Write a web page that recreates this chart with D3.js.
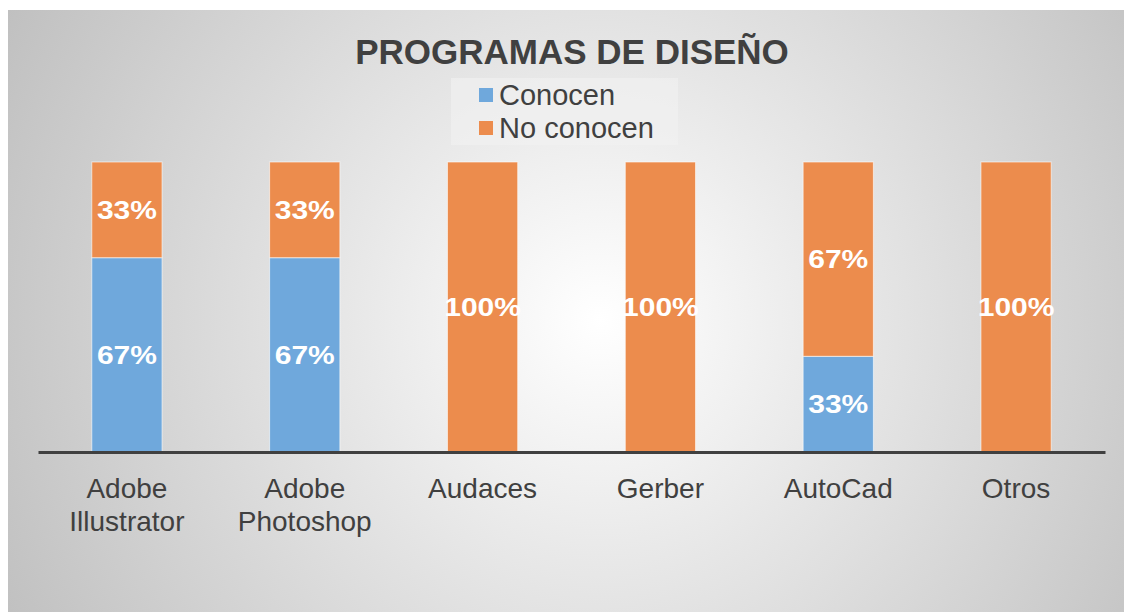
<!DOCTYPE html>
<html>
<head>
<meta charset="utf-8">
<script src="https://cdn.jsdelivr.net/npm/d3@7"></script>
<style>
  body { margin: 0; background: #fff; }
  text { font-family: "Liberation Sans", Arial, sans-serif; }
</style>
</head>
<body>
<div class="chart"></div>
<script>
const categories = [["Adobe", "Illustrator"], ["Adobe", "Photoshop"], ["Audaces"], ["Gerber"], ["AutoCad"], ["Otros"]];
const conocen = [67, 67, 0, 0, 33, 0];
const noConocen = [33, 33, 100, 100, 67, 100];
const seriesNames = ["Conocen", "No conocen"];
const seriesColors = ["#6fa8dc", "#ec8c4d"];

const svg_width = 1124, svg_height = 612;
const chart_margin = {top: 162, right: 19, bottom: 160, left: 38};
const chart_width = svg_width - chart_margin.left - chart_margin.right;
const chart_height = svg_height - chart_margin.top - chart_margin.bottom;

const svg = d3.select('.chart').append('svg')
  .attr('width', svg_width).attr('height', svg_height);

// radial background like the office chart style
const grad = svg.append('defs').append('radialGradient')
  .attr('id', 'bg').attr('gradientUnits', 'userSpaceOnUse')
  .attr('cx', 600).attr('cy', 320).attr('r', 700);
grad.append('stop').attr('offset', '0%').attr('stop-color', '#ffffff');
grad.append('stop').attr('offset', '100%').attr('stop-color', '#bdbdbd');
svg.append('rect').attr('x', 8).attr('y', 10)
  .attr('width', svg_width - 8).attr('height', svg_height - 10)
  .attr('fill', 'url(#bg)');

const names = categories.map(d => d.join(' '));
const data = names.map((n, i) => ({name: n, Conocen: conocen[i], "No conocen": noConocen[i]}));
const stacked = d3.stack().keys(seriesNames)(data);

const xScale = d3.scaleBand().domain(names).range([0, chart_width])
  .paddingInner(0.605).paddingOuter(0.3025);
const yScale = d3.scaleLinear([0, 100], [chart_height, 0]);

const g = svg.append('g').attr('transform', `translate(${chart_margin.left},${chart_margin.top})`);

const layers = g.selectAll('.layer').data(stacked).join('g')
  .attr('class', 'layer').attr('fill', (d, i) => seriesColors[i]);

layers.selectAll('rect').data(d => d.filter(s => s[1] - s[0] > 0)).join('rect')
  .attr('x', d => xScale(d.data.name))
  .attr('y', d => yScale(d[1]))
  .attr('width', xScale.bandwidth())
  .attr('height', d => yScale(d[0]) - yScale(d[1]))
  .attr('stroke', 'rgba(255,255,255,0.6)').attr('stroke-width', 1);

// value labels (slightly wide font, like the reference)
layers.selectAll('text').data(d => d.filter(s => s[1] - s[0] > 0)).join('text')
  .attr('transform', d => `translate(${xScale(d.data.name) + xScale.bandwidth() / 2},${(yScale(d[0]) + yScale(d[1])) / 2}) scale(1.2,1)`)
  .attr('dy', '0.36em')
  .attr('text-anchor', 'middle')
  .attr('fill', '#fff').style('font-weight', 'bold').style('font-size', '25px')
  .text(d => `${d[1] - d[0]}%`);

// x axis
const xAxis = d3.axisBottom(xScale).tickSize(0).tickFormat('');
const xAxisDraw = g.append('g').attr('transform', `translate(0,${chart_height})`).call(xAxis);
xAxisDraw.select('.domain').attr('stroke', '#404040').attr('stroke-width', 3);

const labels = g.append('g').selectAll('text').data(categories).join('text')
  .attr('x', (d, i) => xScale(names[i]) + xScale.bandwidth() / 2)
  .attr('y', chart_height + 46)
  .attr('text-anchor', 'middle')
  .attr('fill', '#404040').style('font-size', '28px');
labels.selectAll('tspan').data(d => d).join('tspan')
  .attr('x', function () { return d3.select(this.parentNode).attr('x'); })
  .attr('dy', (d, i) => i === 0 ? 0 : 33)
  .text(d => d);

// title
svg.append('text').attr('x', 572).attr('y', 64).attr('text-anchor', 'middle')
  .attr('fill', '#404040').style('font-weight', 'bold').style('font-size', '35px')
  .text('PROGRAMAS DE DISEÑO');

// legend
const legend = svg.append('g').attr('transform', 'translate(451,78)');
legend.append('rect').attr('width', 227).attr('height', 67).attr('fill', '#f2f2f2').attr('opacity', 0.6);
seriesNames.forEach((s, i) => {
  legend.append('rect').attr('x', 28).attr('y', 10 + i * 33).attr('width', 14).attr('height', 14)
    .attr('fill', seriesColors[i]);
  legend.append('text').attr('x', 48).attr('y', 17 + i * 33).attr('dy', '0.36em')
    .attr('fill', '#404040').style('font-size', '29px').text(s);
});
</script>
</body>
</html>
